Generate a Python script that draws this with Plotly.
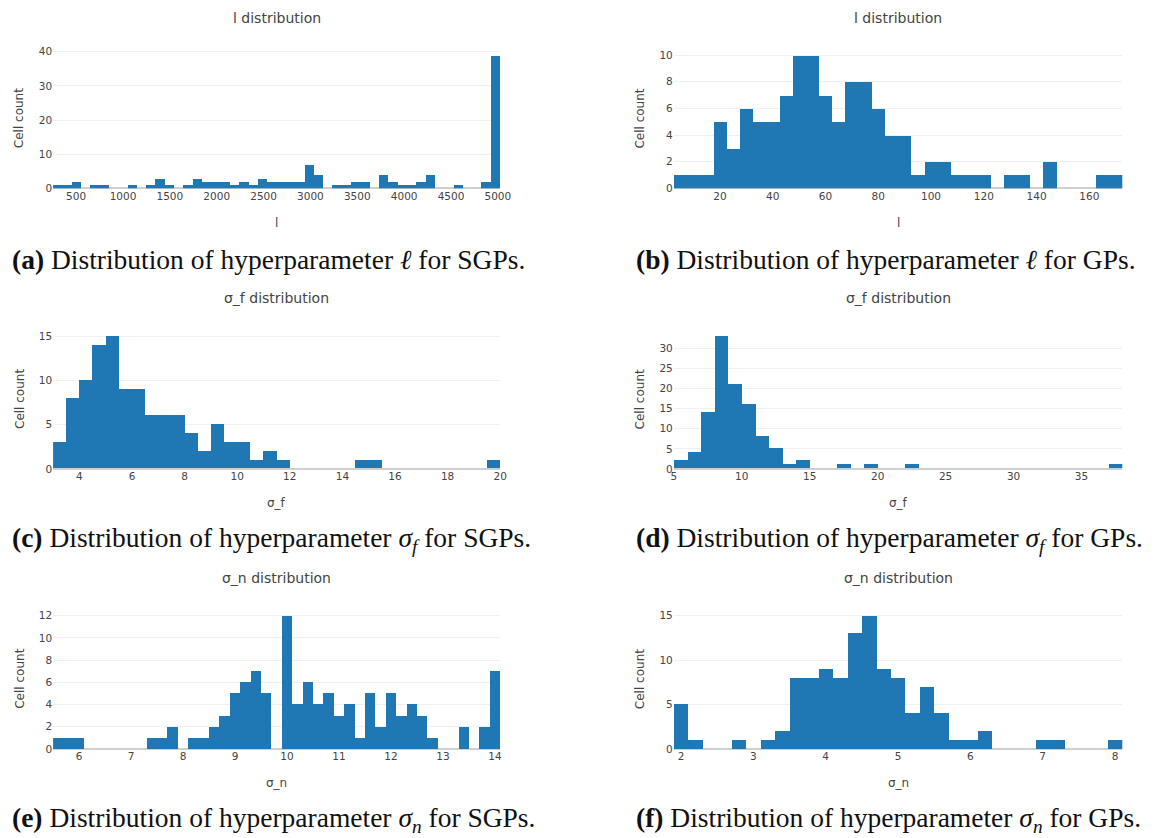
import numpy as np
import plotly.graph_objects as go

# ---------------- histogram data (bin start, bin width, counts) ----------------
l_sgp_start, l_sgp_width = 254.0, 99.4
l_sgp_counts = [1, 1, 2, 0, 1, 1, 0, 0, 1, 0, 1, 3, 1, 0, 1, 3, 2, 2, 2, 1, 2, 1, 3, 2,
                2, 2, 2, 7, 4, 0, 1, 1, 2, 2, 0, 4, 2, 1, 1, 2, 4, 0, 0, 1, 0, 0, 2, 39]

l_gp_start, l_gp_width = 2.5, 5.0
l_gp_counts = [1, 1, 1, 5, 3, 6, 5, 5, 7, 10, 10, 7, 5, 8, 8, 6, 4, 4, 1, 2, 2, 1, 1, 1,
               0, 1, 1, 0, 2, 0, 0, 0, 1, 1]

sf_sgp_start, sf_sgp_width = 3.0, 0.5
sf_sgp_counts = [3, 8, 10, 14, 15, 9, 9, 6, 6, 6, 4, 2, 5, 3, 3, 1, 2, 1, 0, 0, 0, 0, 0,
                 1, 1, 0, 0, 0, 0, 0, 0, 0, 0, 1]

sf_gp_start, sf_gp_width = 5.0, 1.0
sf_gp_counts = [2, 4, 14, 33, 21, 16, 8, 5, 1, 2, 0, 0, 1, 0, 1, 0, 0, 1, 0, 0, 0, 0, 0,
                0, 0, 0, 0, 0, 0, 0, 0, 0, 1]

sn_sgp_start, sn_sgp_width = 5.5, 0.2
sn_sgp_counts = [1, 1, 1, 0, 0, 0, 0, 0, 0, 1, 1, 2, 0, 1, 1, 2, 3, 5, 6, 7, 5, 0, 12, 4,
                 6, 4, 5, 3, 4, 1, 5, 2, 5, 3, 4, 3, 1, 0, 0, 2, 0, 2, 7]

sn_gp_start, sn_gp_width = 1.9, 0.2
sn_gp_counts = [5, 1, 0, 0, 1, 0, 1, 2, 8, 8, 9, 8, 13, 15, 9, 8, 4, 7, 4, 1, 1, 2, 0, 0,
                0, 1, 1, 0, 0, 0, 1]

x_dticks = [500, 20, 2, 5, 1, 1]
y_dticks = [10, 2, 5, 5, 2, 5]

plot_titles = ["l distribution", "l distribution",
               "σ_f distribution", "σ_f distribution",
               "σ_n distribution", "σ_n distribution"]
x_titles = ["l", "l", "σ_f", "σ_f", "σ_n", "σ_n"]
y_title = "Cell count"

captions = [
    "<b>(a)</b> Distribution of hyperparameter <i>ℓ</i> for SGPs.",
    "<b>(b)</b> Distribution of hyperparameter <i>ℓ</i> for GPs.",
    "<b>(c)</b> Distribution of hyperparameter <i>σ</i><sub><i>f</i></sub> for SGPs.",
    "<b>(d)</b> Distribution of hyperparameter <i>σ</i><sub><i>f</i></sub> for GPs.",
    "<b>(e)</b> Distribution of hyperparameter <i>σ</i><sub><i>n</i></sub> for SGPs.",
    "<b>(f)</b> Distribution of hyperparameter <i>σ</i><sub><i>n</i></sub> for GPs.",
]

hists = [
    (l_sgp_start, l_sgp_width, l_sgp_counts),
    (l_gp_start, l_gp_width, l_gp_counts),
    (sf_sgp_start, sf_sgp_width, sf_sgp_counts),
    (sf_gp_start, sf_gp_width, sf_gp_counts),
    (sn_sgp_start, sn_sgp_width, sn_sgp_counts),
    (sn_gp_start, sn_gp_width, sn_gp_counts),
]

# ---------------- page geometry (pixels) ----------------
W, H = 1157, 838
col_x = [(50.7, 503.3), (679.0, 1133.0)]
row_y = [(46.0, 187.3), (330.0, 471.0), (612.6, 754.0)]
title_y = [15, 298, 581]
xlabel_y = [222, 505, 788]
caption_y = [259, 542, 825]
ylabel_x = [17, 645]
caption_x = [7, 639]

SANS = "DejaVu Sans"
SERIF = "Liberation Serif"
TEXT = "#444444"
BAR = "#1f77b4"


def px_x(x):
    return x / W


def px_y(y):
    return 1 - y / H


fig = go.Figure()
annotations = []

for i, (start, width, counts) in enumerate(hists):
    row, col = divmod(i, 2)
    counts = np.asarray(counts)
    centers = start + width * (np.arange(len(counts)) + 0.5)
    edges_lo, edges_hi = start, start + width * len(counts)
    ax = "" if i == 0 else str(i + 1)

    fig.add_trace(go.Bar(
        x=centers, y=counts, width=width,
        marker=dict(color=BAR, line=dict(width=0)),
        xaxis="x" + ax, yaxis="y" + ax, showlegend=False,
    ))

    x0, x1 = col_x[col]
    y0, y1 = row_y[row]
    fig.layout["xaxis" + ax] = dict(
        domain=[px_x(x0), px_x(x1)], anchor="y" + ax,
        range=[edges_lo, edges_hi], dtick=x_dticks[i], tick0=0,
        showgrid=False, zeroline=False, showline=False, ticks="",
        tickfont=dict(family=SANS, size=10.5, color=TEXT),
    )
    fig.layout["yaxis" + ax] = dict(
        domain=[px_y(y1), px_y(y0)], anchor="x" + ax,
        range=[0, counts.max() * 1.05], dtick=y_dticks[i],
        showgrid=True, gridcolor="#eef0f4", gridwidth=1,
        zeroline=True, zerolinecolor="#cfcfcf", zerolinewidth=2,
        showline=False, ticks="",
        tickfont=dict(family=SANS, size=10.5, color=TEXT),
    )

    cx = (x0 + x1) / 2
    annotations.append(dict(
        text=plot_titles[i], x=px_x(cx), y=px_y(title_y[row]),
        xref="paper", yref="paper", xanchor="center", yanchor="middle",
        showarrow=False, font=dict(family=SANS, size=14, color=TEXT)))
    annotations.append(dict(
        text=x_titles[i], x=px_x(cx), y=px_y(xlabel_y[row]),
        xref="paper", yref="paper", xanchor="center", yanchor="middle",
        showarrow=False, font=dict(family=SANS, size=12, color=TEXT)))
    annotations.append(dict(
        text=y_title, x=px_x(ylabel_x[col]), y=px_y((y0 + y1) / 2),
        xref="paper", yref="paper", xanchor="center", yanchor="middle",
        textangle=-90, showarrow=False,
        font=dict(family=SANS, size=12, color=TEXT)))
    annotations.append(dict(
        text=captions[i], x=px_x(caption_x[col]), y=px_y(caption_y[row]),
        xref="paper", yref="paper", xanchor="left", yanchor="middle",
        showarrow=False, font=dict(family=SERIF, size=27.5, color="#111111")))

fig.update_layout(
    width=W, height=H,
    margin=dict(l=0, r=0, t=0, b=0),
    paper_bgcolor="white", plot_bgcolor="white",
    bargap=0, annotations=annotations,
    font=dict(family=SANS, color=TEXT),
)

fig.write_html("out.html")
